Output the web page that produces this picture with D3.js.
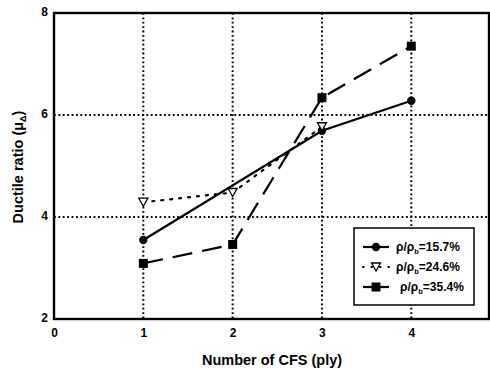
<!DOCTYPE html>
<html>
<head>
<meta charset="utf-8">
<script src="https://cdn.jsdelivr.net/npm/d3@7"></script>
<style>
  html, body { margin: 0; padding: 0; background: #fff; }
  svg { display: block; font-family: "Liberation Sans", Arial, sans-serif; font-weight: bold; }
</style>
</head>
<body>
<svg id="chart" width="490" height="369"></svg>
<script>
// Ductile ratio versus number of CFS plies, for three reinforcement ratios
const xTicks = [0, 1, 2, 3, 4];
const yTicks = [2, 4, 6, 8];
const plies15 = [1, 3, 4];
const ratio15 = [3.55, 5.69, 6.28];
const plies24 = [1, 2, 3];
const ratio24 = [4.29, 4.48, 5.77];
const plies35 = [1, 2, 3, 4];
const ratio35 = [3.09, 3.46, 6.34, 7.35];
const legendLabels = ["15.7%", "24.6%", "35.4%"];

const svg = d3.select("#chart");
const m = { left: 54, right: 1, top: 13, bottom: 50 };
const W = 490, H = 369;

const x = d3.scaleLinear().domain([0, 4.87]).range([m.left, W - m.right]);
const y = d3.scaleLinear().domain([2, 8]).range([H - m.bottom, m.top]);

// dotted grid
const grid = svg.append("g").attr("stroke", "#000").attr("stroke-width", 2)
  .attr("stroke-dasharray", "1.8,2.6").attr("fill", "none");
grid.selectAll("line.v").data(xTicks.slice(1)).enter().append("line")
  .attr("x1", d => x(d)).attr("x2", d => x(d)).attr("y1", y(8)).attr("y2", y(2));
grid.selectAll("line.h").data([4, 6]).enter().append("line")
  .attr("x1", x(0)).attr("x2", x(4.87)).attr("y1", d => y(d)).attr("y2", d => y(d));

// series
const series = [
  { xs: plies15, ys: ratio15, dash: null, marker: "circle" },
  { xs: plies24, ys: ratio24, dash: "2,7", marker: "tri" },
  { xs: plies35, ys: ratio35, dash: "20,10", marker: "square" }
];
const line = d3.line().x(d => x(d[0])).y(d => y(d[1]));

function drawMarker(g, kind, cx, cy) {
  if (kind === "circle") {
    g.append("circle").attr("cx", cx).attr("cy", cy).attr("r", 4.2).attr("fill", "#000");
  } else if (kind === "square") {
    g.append("rect").attr("x", cx - 4.5).attr("y", cy - 4.5).attr("width", 9).attr("height", 9).attr("fill", "#000");
  } else {
    g.append("path").attr("d", `M${cx - 4.5},${cy - 4} L${cx + 4.5},${cy - 4} L${cx},${cy + 4} Z`)
      .attr("fill", "#fff").attr("stroke", "#000").attr("stroke-width", 1.3);
  }
}

series.forEach(s => {
  const pts = s.xs.map((v, i) => [v, s.ys[i]]);
  svg.append("path").datum(pts).attr("d", line)
    .attr("fill", "none").attr("stroke", "#000").attr("stroke-width", 2.2)
    .attr("stroke-linecap", s.dash === "2,7" ? "round" : "butt")
    .attr("stroke-dasharray", s.dash);
  const g = svg.append("g");
  pts.forEach(p => drawMarker(g, s.marker, x(p[0]), y(p[1])));
});

// frame
svg.append("rect").attr("x", x(0)).attr("y", y(8)).attr("width", x(4.87) - x(0)).attr("height", y(2) - y(8))
  .attr("fill", "none").attr("stroke", "#000").attr("stroke-width", 2.4);

// axes (labels only, frame drawn above)
const xAxis = svg.append("g").attr("transform", `translate(0,${y(2)})`)
  .call(d3.axisBottom(x).tickValues(xTicks).tickSize(0).tickPadding(9).tickFormat(d3.format("d")));
const yAxis = svg.append("g").attr("transform", `translate(${x(0)},0)`)
  .call(d3.axisLeft(y).tickValues(yTicks).tickSize(0).tickPadding(6).tickFormat(d3.format("d")));
[xAxis, yAxis].forEach(a => {
  a.select(".domain").remove();
  a.selectAll("text").attr("font-size", 12).attr("font-weight", "bold")
    .attr("font-family", "Liberation Sans, Arial, sans-serif").attr("fill", "#000");
});
yAxis.selectAll("text").attr("dy", "0.2em");

// axis titles
svg.append("text").attr("x", 272).attr("y", 365).attr("text-anchor", "middle")
  .attr("font-size", 14.5).text("Number of CFS (ply)");
const yt = svg.append("text").attr("transform", "translate(23,167) rotate(-90)")
  .attr("text-anchor", "middle").attr("font-size", 14.5);
yt.append("tspan").text("Ductile ratio (μ");
yt.append("tspan").attr("font-size", 9).attr("dy", 3).text("Δ");
yt.append("tspan").attr("dy", -3).text(")");

// legend
const lg = svg.append("g");
lg.append("rect").attr("x", 354).attr("y", 228).attr("width", 120).attr("height", 77)
  .attr("fill", "#fff").attr("stroke", "#000").attr("stroke-width", 1.5);
const rowY = [247, 267, 287];
series.forEach((s, i) => {
  const ly = rowY[i];
  lg.append("line").attr("x1", 363).attr("x2", 389).attr("y1", ly).attr("y2", ly)
    .attr("stroke", "#000").attr("stroke-width", 2.2)
    .attr("stroke-linecap", s.dash === "2,7" ? "round" : "butt")
    .attr("stroke-dasharray", s.dash === "2,7" ? "0.5,8" : null);
  drawMarker(lg, s.marker, 376, ly);
  const t = lg.append("text").attr("x", i === 2 ? 400 : 396).attr("y", ly + 4).attr("font-size", 12);
  t.append("tspan").text("ρ/ρ");
  t.append("tspan").attr("font-size", 7.5).attr("dy", 3).text("b");
  t.append("tspan").attr("dy", -3).text("=" + legendLabels[i]);
});
</script>
</body>
</html>
